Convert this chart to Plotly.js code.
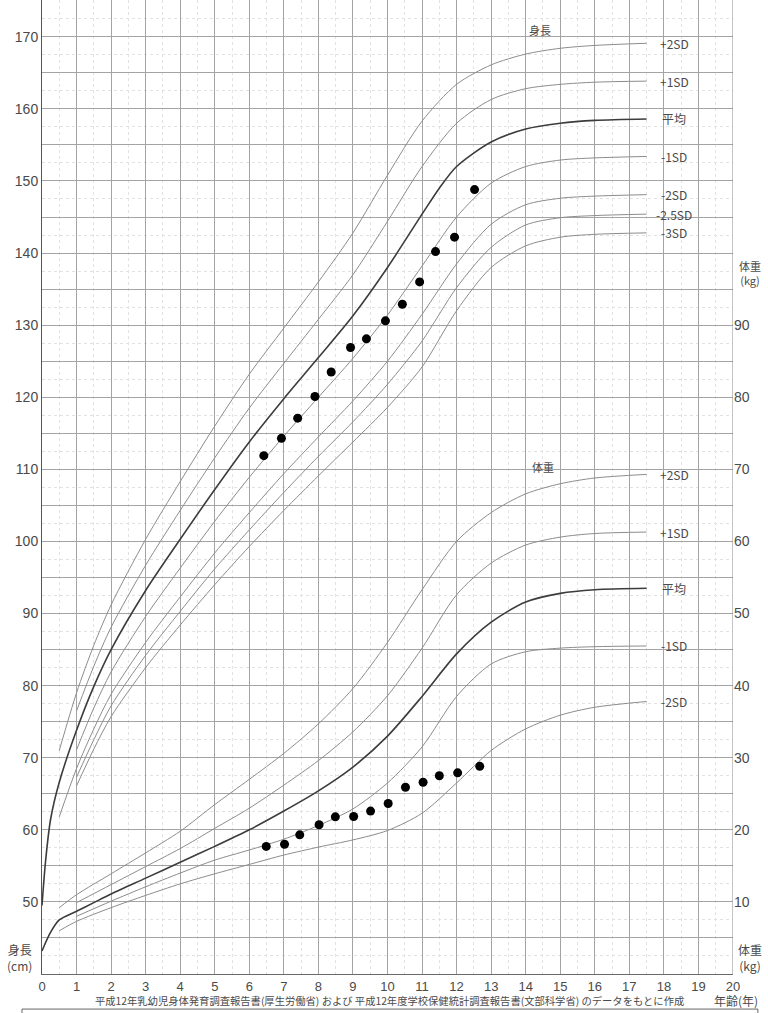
<!DOCTYPE html>
<html>
<head>
<meta charset="utf-8">
<script src="https://cdn.plot.ly/plotly-3.0.1.min.js"></script>
<style>
  body { margin: 0; background: #fff; }
  #graph { width: 768px; height: 1013px; }
</style>
</head>
<body>
<div id="graph"></div>
<script>
// ages used by the reference curves
var ages05 = [0.5, 1, 1.5, 2, 3, 4, 5, 6, 7, 8, 9, 10, 11, 12, 13, 14, 15, 16, 17.5];
var ages1 = [1, 1.5, 2, 3, 4, 5, 6, 7, 8, 9, 10, 11, 12, 13, 14, 15, 16, 17.5];
var agesMeanH = [0, 0.1, 0.25, 0.5, 1, 1.5, 2, 3, 4, 5, 6, 7, 8, 9, 10, 11, 11.5, 12, 13, 14, 15, 16, 17.5];

// height (cm)
var hP2 = [71.0, 79.0, 85.6, 91.2, 100.3, 108.3, 116.0, 123.2, 129.6, 136.0, 142.8, 150.8, 158.3, 163.4, 166.1, 167.6, 168.4, 168.8, 169.1];
var hP1 = [76.5, 82.7, 88.1, 96.7, 104.3, 111.6, 118.5, 124.7, 130.8, 137.0, 144.4, 152.0, 158.0, 161.3, 162.8, 163.4, 163.7, 163.85];
var hMean = [49.5, 55.5, 61.5, 66.6, 73.8, 79.9, 85.0, 93.2, 100.3, 107.2, 113.8, 119.8, 125.5, 131.3, 138.0, 145.4, 149.0, 152.0, 155.4, 157.2, 158.0, 158.4, 158.6];
var hM1 = [71.1, 76.9, 81.9, 89.6, 96.3, 102.8, 108.9, 114.6, 120.0, 125.4, 131.4, 138.2, 145.0, 149.7, 152.0, 152.9, 153.2, 153.4];
var hM2 = [61.8, 68.5, 74.0, 78.8, 86.0, 92.3, 98.4, 104.0, 109.4, 114.5, 119.5, 125.0, 131.5, 138.5, 144.0, 146.7, 147.6, 147.9, 148.1];
var hM25 = [67.3, 72.5, 77.2, 84.2, 90.3, 96.2, 101.6, 106.8, 111.8, 116.6, 121.8, 127.8, 135.2, 140.8, 143.9, 144.9, 145.2, 145.4];
var hM3 = [66.1, 71.2, 75.7, 82.5, 88.4, 94.0, 99.3, 104.3, 109.1, 113.8, 118.6, 124.2, 132.0, 138.0, 141.0, 142.2, 142.6, 142.8];

// weight (kg)
var wAges05 = [0.5, 1, 2, 3, 4, 5, 6, 7, 8, 9, 10, 11, 12, 13, 14, 15, 16, 17.5];
var wAges1 = [1, 2, 3, 4, 5, 6, 7, 8, 9, 10, 11, 12, 13, 14, 15, 16, 17.5];
var wAgesMean = [0, 0.25, 0.5, 1, 1.5, 2, 3, 4, 5, 6, 7, 8, 9, 10, 11, 12, 13, 14, 15, 16, 17.5];
var wP2 = [9.2, 11.0, 13.9, 16.8, 19.8, 23.5, 27.0, 30.6, 34.7, 39.6, 46.0, 53.3, 60.0, 64.0, 66.6, 68.0, 68.8, 69.3];
var wP1 = [9.9, 12.4, 14.9, 17.4, 20.2, 23.0, 26.2, 29.6, 33.6, 38.6, 45.2, 52.6, 57.0, 59.5, 60.6, 61.1, 61.3];
var wMean = [3.2, 5.8, 7.5, 8.7, 9.9, 11.1, 13.3, 15.5, 17.7, 20.0, 22.6, 25.4, 28.7, 33.0, 38.5, 44.4, 48.8, 51.6, 52.8, 53.3, 53.5];
var wM1 = [8.0, 10.1, 12.1, 14.0, 15.8, 17.2, 18.7, 20.6, 22.9, 26.5, 31.5, 38.5, 43.0, 44.7, 45.2, 45.4, 45.5];
var wM2 = [6.0, 7.3, 9.2, 10.9, 12.5, 13.9, 15.2, 16.5, 17.6, 18.6, 19.9, 22.3, 26.5, 31.0, 34.0, 35.9, 37.0, 37.8];

// the child's measurements
var childAgeH = [6.42, 6.93, 7.40, 7.90, 8.37, 8.93, 9.39, 9.94, 10.43, 10.93, 11.39, 11.94, 12.52];
var childHeight = [111.9, 114.3, 117.1, 120.1, 123.5, 126.9, 128.1, 130.6, 132.9, 136.0, 140.2, 142.2, 148.8];
var childAgeW = [6.49, 7.02, 7.46, 8.02, 8.49, 9.02, 9.51, 10.02, 10.52, 11.03, 11.50, 12.03, 12.67];
var childWeight = [17.7, 18.0, 19.3, 20.7, 21.8, 21.85, 22.6, 23.65, 25.9, 26.6, 27.5, 27.9, 28.8];

// labels
var sdLabels = ['+2SD', '+1SD', '平均', '-1SD', '-2SD', '-2.5SD', '-3SD'];
var wLabels = ['+2SD', '+1SD', '平均', '-1SD', '-2SD'];
var xTicks = [0,1,2,3,4,5,6,7,8,9,10,11,12,13,14,15,16,17,18,19,20];
var yTicks = [40,45,50,55,60,65,70,75,80,85,90,95,100,105,110,115,120,125,130,135,140,145,150,155,160,165,170,175];
var y2Ticks = [10,20,30,40,50,60,70,80,90];

var grey = '#8c8c8c';
var dark = '#3c3c3c';
var txt = '#4a4a4a';
var jp = '"Noto Sans CJK JP", "Liberation Sans", sans-serif';

function curve(x, y, axis, color, w) {
  return {x: x, y: y, yaxis: axis, type: 'scatter', mode: 'lines',
    line: {color: color, width: w, shape: 'spline', smoothing: 0.8},
    hoverinfo: 'skip'};
}

var data = [
  curve(ages05, hP2, 'y', grey, 1),
  curve(ages1, hP1, 'y', grey, 1),
  curve(agesMeanH, hMean, 'y', dark, 1.6),
  curve(ages1, hM1, 'y', grey, 1),
  curve(ages05, hM2, 'y', grey, 1),
  curve(ages1, hM25, 'y', grey, 1),
  curve(ages1, hM3, 'y', grey, 1),
  curve(wAges05, wP2, 'y2', grey, 1),
  curve(wAges1, wP1, 'y2', grey, 1),
  curve(wAgesMean, wMean, 'y2', dark, 1.6),
  curve(wAges1, wM1, 'y2', grey, 1),
  curve(wAges05, wM2, 'y2', grey, 1),
  {x: childAgeH, y: childHeight, yaxis: 'y', type: 'scatter', mode: 'markers',
    marker: {color: '#000', size: 9}},
  {x: childAgeW, y: childWeight, yaxis: 'y2', type: 'scatter', mode: 'markers',
    marker: {color: '#000', size: 9}}
];

function note(x, y, xref, yref, text, size) {
  return {x: x, y: y, xref: xref, yref: yref, text: text, showarrow: false,
    xanchor: 'center', yanchor: 'middle', align: 'center',
    font: {family: jp, size: size, color: txt}};
}

var ann = [];
var hEnds = [hP2, hP1, hMean, hM1, hM2, hM25, hM3];
for (var i = 0; i < sdLabels.length; i++) {
  ann.push(note(18.3, hEnds[i][hEnds[i].length - 1], 'x', 'y', sdLabels[i], 12));
}
var wEnds = [wP2, wP1, wMean, wM1, wM2];
for (var j = 0; j < wLabels.length; j++) {
  ann.push(note(18.3, wEnds[j][wEnds[j].length - 1], 'x', 'y2', wLabels[j], 12));
}
ann.push(note(14.4, 171, 'x', 'y', '身長', 11));
ann.push(note(14.5, 70.3, 'x', 'y2', '体重', 11));
ann.push(note(-0.032, 0.0165, 'paper', 'paper', '身長<br>(cm)', 12));
ann.push(note(1.0246, 0.0165, 'paper', 'paper', '体重<br>(kg)', 12));
ann.push(note(1.0246, 0.72, 'paper', 'paper', '体重<br>(kg)', 11));
ann.push(note(1.004, -0.0275, 'paper', 'paper', '年齢(年)', 12));
ann.push(note(0.5036, -0.0275, 'paper', 'paper',
  '平成12年乳幼児身体発育調査報告書(厚生労働省) および 平成12年度学校保健統計調査報告書(文部科学省) のデータをもとに作成', 10.3));

var yText = yTicks.map(function (v) { return (v % 10 === 0 && v >= 50 && v <= 170) ? String(v) : ''; });

var layout = {
  width: 768,
  height: 1013,
  margin: {l: 42, r: 35, t: 0, b: 39, pad: 0},
  paper_bgcolor: '#fff',
  plot_bgcolor: '#fff',
  showlegend: false,
  font: {family: '"Liberation Sans", Arial, sans-serif', color: txt},
  xaxis: {
    range: [0, 20],
    tickmode: 'array',
    tickvals: xTicks,
    showgrid: true,
    gridcolor: '#a4a4a4',
    gridwidth: 1,
    zeroline: false,
    showline: true,
    linecolor: '#6a6a6a',
    ticks: '',
    tickfont: {size: 13, color: txt},
    minor: {tickmode: 'linear', tick0: 0, dtick: 0.5, showgrid: true, gridcolor: '#e2e2e2', griddash: 'dot', gridwidth: 1}
  },
  yaxis: {
    range: [40, 175.1],
    tickmode: 'array',
    tickvals: yTicks,
    ticktext: yText,
    showgrid: true,
    gridcolor: '#a4a4a4',
    gridwidth: 1,
    zeroline: false,
    showline: true,
    linecolor: '#555',
    ticks: '',
    tickfont: {size: 14, color: txt},
    minor: {tickmode: 'linear', tick0: 40, dtick: 2.5, showgrid: true, gridcolor: '#e2e2e2', griddash: 'dot', gridwidth: 1}
  },
  yaxis2: {
    range: [0, 135.1],
    overlaying: 'y',
    side: 'right',
    tickmode: 'array',
    tickvals: y2Ticks,
    showgrid: false,
    zeroline: false,
    showline: false,
    ticks: '',
    tickfont: {size: 14, color: txt}
  },
  shapes: [
    {type: 'line', xref: 'x', yref: 'paper', x0: 20, x1: 20, y0: 0, y1: 1,
      line: {color: '#8a8a8a', width: 1}},
    {type: 'rect', xref: 'paper', yref: 'paper', x0: -0.029, x1: 1.036, y0: -0.036, y1: -0.05,
      line: {color: '#666', width: 1}}
  ],
  annotations: ann
};

Plotly.newPlot('graph', data, layout, {staticPlot: true});
</script>
</body>
</html>
